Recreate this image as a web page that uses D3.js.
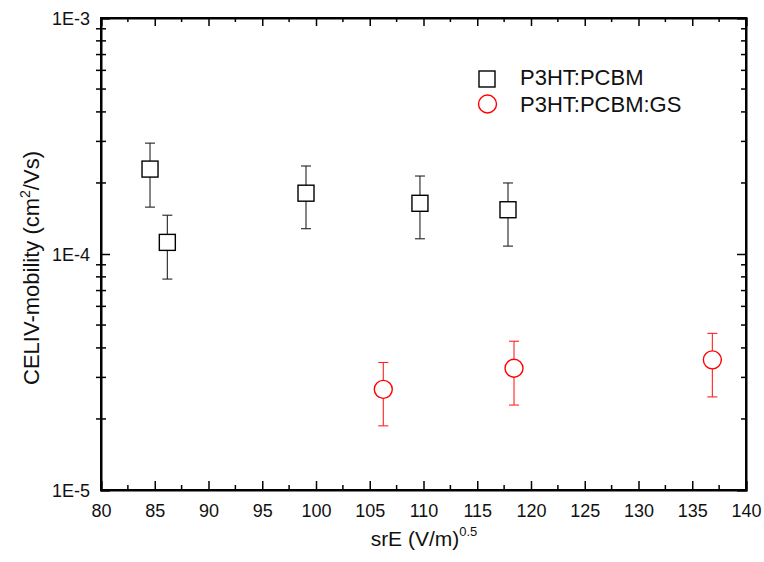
<!DOCTYPE html>
<html>
<head>
<meta charset="utf-8">
<script src="https://cdn.jsdelivr.net/npm/d3@7"></script>
<style>
  body { margin: 0; background: #fff; }
  text { font-family: "Liberation Sans", Arial, sans-serif; fill: #111; }
</style>
</head>
<body>
<svg id="chart" width="764" height="562"></svg>
<script>
// ---- data ----
const seriesNames = ["P3HT:PCBM", "P3HT:PCBM:GS"];
const pcbmX   = [84.56, 86.17, 99.07, 109.67, 117.86];
const pcbmY   = [2.29e-4, 1.12e-4, 1.81e-4, 1.64e-4, 1.54e-4];
const pcbmHi  = [2.95e-4, 1.46e-4, 2.36e-4, 2.14e-4, 2.00e-4];
const pcbmLo  = [1.58e-4, 7.83e-5, 1.28e-4, 1.16e-4, 1.08e-4];
const gsX     = [106.26, 118.42, 136.87];
const gsY     = [2.67e-5, 3.28e-5, 3.56e-5];
const gsHi    = [3.47e-5, 4.27e-5, 4.61e-5];
const gsLo    = [1.87e-5, 2.29e-5, 2.48e-5];
const xTicks  = [80, 85, 90, 95, 100, 105, 110, 115, 120, 125, 130, 135, 140];
const yTicks  = [1e-5, 1e-4, 1e-3];
const yTickLabels = ["1E-5", "1E-4", "1E-3"];

// ---- layout ----
const svg = d3.select("#chart");
const L = 101, R = 746, T = 18, B = 490;
const x = d3.scaleLinear().domain([80, 140]).range([L, R]);
const y = d3.scaleLog().domain([1e-5, 1e-3]).range([B, T]);

const xMinor = d3.range(82.5, 140, 5);
const yMinor = [];
[1e-5, 1e-4].forEach(d => { for (let k = 2; k <= 9; k++) yMinor.push(d * k); });

// bottom axis
const gB = svg.append("g").attr("transform", `translate(0,${B})`);
gB.call(d3.axisBottom(x).tickValues(xTicks).tickSize(-9).tickPadding(14).tickFormat(d3.format("d")));
gB.selectAll(".minor").data(xMinor).enter().append("line")
  .attr("x1", d => x(d)).attr("x2", d => x(d)).attr("y1", 0).attr("y2", -5);
// top axis
const gT = svg.append("g").attr("transform", `translate(0,${T})`);
gT.call(d3.axisTop(x).tickValues(xTicks).tickSize(-8).tickFormat(""));
gT.selectAll(".minor").data(xMinor).enter().append("line")
  .attr("x1", d => x(d)).attr("x2", d => x(d)).attr("y1", 0).attr("y2", 4);
// left axis
const gL = svg.append("g").attr("transform", `translate(${L},0)`);
gL.call(d3.axisLeft(y).tickValues(yTicks).tickSize(-9).tickPadding(11)
  .tickFormat((d, i) => yTickLabels[i]));
gL.selectAll(".minor").data(yMinor).enter().append("line")
  .attr("x1", -5).attr("x2", 5).attr("y1", d => y(d)).attr("y2", d => y(d));
// right axis
const gR = svg.append("g").attr("transform", `translate(${R},0)`);
gR.call(d3.axisRight(y).tickValues(yTicks).tickSize(-9).tickFormat(""));
gR.selectAll(".minor").data(yMinor).enter().append("line")
  .attr("x1", 0).attr("x2", -5).attr("y1", d => y(d)).attr("y2", d => y(d));

svg.selectAll(".domain").attr("stroke", "#000").attr("stroke-width", 2);
svg.selectAll(".tick line").attr("stroke", "#000").attr("stroke-width", 1.5);
svg.selectAll("g line:not(.tick line)").attr("stroke", "#000").attr("stroke-width", 1.5);
svg.selectAll(".tick text").attr("font-size", 18)
  .attr("font-family", "Liberation Sans, Arial, sans-serif").attr("fill", "#111");
gL.selectAll(".tick text").attr("dy", "0.36em");

// frame
svg.append("rect").attr("x", L).attr("y", T).attr("width", R - L).attr("height", B - T)
  .attr("fill", "none").attr("stroke", "#000").attr("stroke-width", 2);

// ---- error bars & markers ----
const cap = 5;
function errBars(xs, lo, hi, color) {
  const g = svg.append("g").attr("stroke", color).attr("stroke-width", 1.1).attr("fill", "none");
  xs.forEach((xv, i) => {
    g.append("line").attr("x1", x(xv)).attr("x2", x(xv)).attr("y1", y(lo[i])).attr("y2", y(hi[i]));
    g.append("line").attr("x1", x(xv) - cap).attr("x2", x(xv) + cap).attr("y1", y(lo[i])).attr("y2", y(lo[i]));
    g.append("line").attr("x1", x(xv) - cap).attr("x2", x(xv) + cap).attr("y1", y(hi[i])).attr("y2", y(hi[i]));
  });
}
errBars(pcbmX, pcbmLo, pcbmHi, "#222");
errBars(gsX, gsLo, gsHi, "#f22");

const sq = 16;
svg.append("g").selectAll("rect").data(pcbmX).enter().append("rect")
  .attr("x", (d) => x(d) - sq / 2).attr("y", (d, i) => y(pcbmY[i]) - sq / 2)
  .attr("width", sq).attr("height", sq)
  .attr("fill", "#fff").attr("stroke", "#000").attr("stroke-width", 1.4);

svg.append("g").selectAll("circle").data(gsX).enter().append("circle")
  .attr("cx", d => x(d)).attr("cy", (d, i) => y(gsY[i])).attr("r", 9)
  .attr("fill", "#fff").attr("stroke", "#f00").attr("stroke-width", 1.4);

// ---- legend ----
const lg = svg.append("g");
lg.append("rect").attr("x", 479).attr("y", 71).attr("width", sq).attr("height", sq)
  .attr("fill", "#fff").attr("stroke", "#000").attr("stroke-width", 1.4);
lg.append("circle").attr("cx", 487.5).attr("cy", 104).attr("r", 9)
  .attr("fill", "#fff").attr("stroke", "#f00").attr("stroke-width", 1.4);
lg.append("text").attr("x", 520).attr("y", 85).attr("font-size", 22).text(seriesNames[0]);
lg.append("text").attr("x", 520).attr("y", 112).attr("font-size", 22).text(seriesNames[1]);

// ---- axis titles ----
const xt = svg.append("text").attr("x", 424).attr("y", 546).attr("text-anchor", "middle").attr("font-size", 21);
xt.append("tspan").text("srE (V/m)");
xt.append("tspan").attr("dy", -10).attr("font-size", 13).text("0.5");

const yt = svg.append("text")
  .attr("transform", `translate(39,${(T + B) / 2 + 14}) rotate(-90)`)
  .attr("text-anchor", "middle").attr("font-size", 22);
yt.append("tspan").text("CELIV-mobility (cm");
yt.append("tspan").attr("dy", -9).attr("font-size", 14).text("2");
yt.append("tspan").attr("dy", 9).text("/Vs)");
</script>
</body>
</html>
